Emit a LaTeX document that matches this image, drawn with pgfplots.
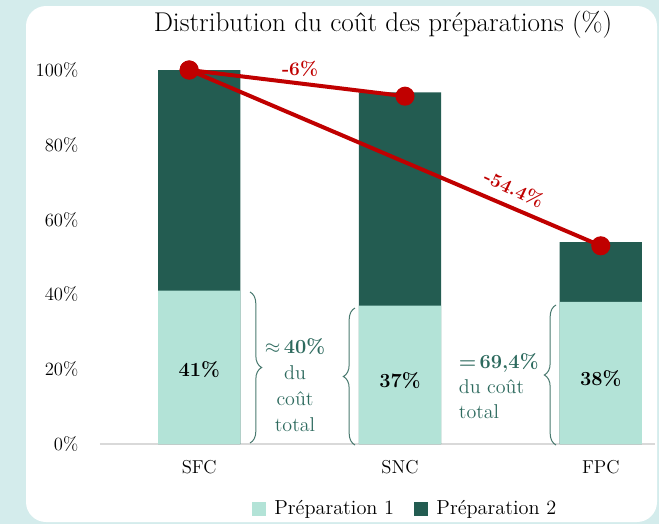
\documentclass[border=0pt]{standalone}
\usepackage{pgfplots}
\pgfplotsset{compat=1.18}
\usetikzlibrary{decorations.pathreplacing}
\definecolor{bgteal}{HTML}{D4ECEC}
\definecolor{lightbar}{HTML}{B3E3D7}
\definecolor{darkbar}{HTML}{235C51}
\definecolor{myred}{HTML}{C00000}
\definecolor{annot}{HTML}{2D6A5E}
\definecolor{bracecol}{HTML}{4A7A70}
\begin{document}
\begin{tikzpicture}
\begin{scope}[x=0.6pt,y=-0.6pt]
\useasboundingbox (0,0) rectangle (659,524);
\fill[bgteal] (0,0) rectangle (659,524);
\fill[white, rounded corners=12pt] (26,6) rectangle (657,522);
\node[font=\fontsize{16.3}{19}\selectfont] at (383,25) {Distribution du coût des préparations (\%)};
\end{scope}
\begin{axis}[
  at={(60pt,-266.4pt)}, anchor=south west,
  scale only axis, width=333pt, height=224.4pt,
  xmin=-0.494, xmax=2.27, ymin=0, ymax=100,
  clip=false,
  axis x line*=bottom, axis y line*=left,
  x axis line style={-, draw=gray!30, line width=0.9pt},
  y axis line style={draw=none},
  major tick length=0pt,
  xtick={0,1,2}, xticklabels={SFC,SNC,FPC},
  ytick={0,20,40,60,80,100},
  yticklabels={0\%,20\%,40\%,60\%,80\%,100\%},
  tick label style={font=\fontsize{11.2}{13}\selectfont},
  yticklabel style={xshift=-9.5pt},
  xticklabel style={yshift=-6pt},
  legend style={at={(0.551,-0.174)}, anchor=center, draw=none, fill=none,
    legend columns=2, font=\fontsize{12.2}{14}\selectfont,
    /tikz/every even column/.append style={column sep=10pt},
    inner sep=0pt},
  legend cell align=left,
]
\addlegendimage{legend image code/.code={\fill[lightbar] (0pt,-3.9pt) rectangle (8pt,4.1pt); \path (11pt,0pt);}}
\addlegendentry{Préparation 1}
\addlegendimage{legend image code/.code={\fill[darkbar] (0pt,-3.9pt) rectangle (8pt,4.1pt); \path (11pt,0pt);}}
\addlegendentry{Préparation 2}
% Preparation 2 stacked on Preparation 1 (total heights)
\addplot[ybar, bar width=0.41, bar shift=0pt, fill=darkbar, draw=none, forget plot]
  coordinates {(0,100) (1,94) (2,54)};
% Preparation 1
\addplot[ybar, bar width=0.41, bar shift=0pt, fill=lightbar, draw=none, forget plot]
  coordinates {(0,41) (1,37) (2,38)};
\addplot[myred, line width=2.4pt, mark=*, mark size=4.5pt, mark options={fill=myred, draw=myred}, forget plot]
  coordinates {(-0.05,100) (1.025,93)};
\addplot[myred, line width=2.4pt, mark=*, mark size=4.5pt, mark options={fill=myred, draw=myred}, forget plot]
  coordinates {(-0.05,100) (2,53)};
\node[font=\bfseries\fontsize{12}{14}\selectfont] at (axis cs:0,20) {41\%};
\node[font=\bfseries\fontsize{12}{14}\selectfont] at (axis cs:1,17) {37\%};
\node[font=\bfseries\fontsize{12}{14}\selectfont] at (axis cs:2,17.5) {38\%};
\end{axis}
\begin{scope}[x=0.6pt,y=-0.6pt]
\node[myred, font=\bfseries\fontsize{11.5}{13}\selectfont] at (300,69) {-6\%};
\node[myred, font=\bfseries\fontsize{11.5}{13}\selectfont, rotate=-25, inner sep=0pt] at (514,189) {-54.4\%};
\draw[bracecol, line width=0.6pt, decorate, decoration={brace, amplitude=7pt}] (250,292) -- (250,443);
\draw[bracecol, line width=0.6pt, decorate, decoration={brace, amplitude=7pt}] (355,445) -- (355,308);
\draw[bracecol, line width=0.6pt, decorate, decoration={brace, amplitude=7pt}] (556,445) -- (556,305);
\node[text=annot, align=center, font=\fontsize{12}{15.6}\selectfont] at (295,385)
  {\textbf{$\approx$\,40\%}\\du\\coût\\total};
\node[text=annot, align=left, anchor=west, font=\fontsize{12}{15}\selectfont] at (453,386)
  {\textbf{=\,69,4\%}\\du coût\\total};
\end{scope}
\end{tikzpicture}
\end{document}
